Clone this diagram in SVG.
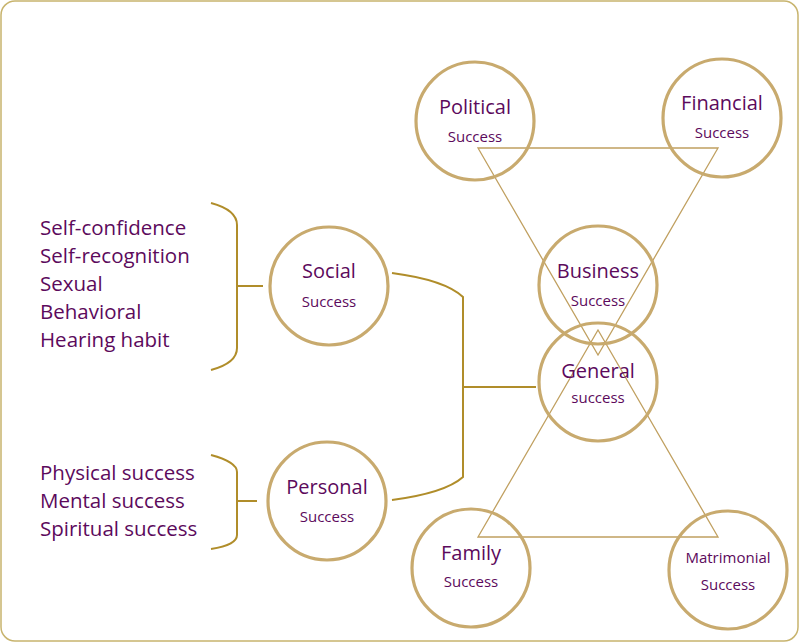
<svg xmlns="http://www.w3.org/2000/svg" width="800" height="643" viewBox="0 0 800 643">
<style>
.c{fill:none;stroke:#c8aa6e;stroke-width:3.2}
.l{fill:none;stroke:#b08d2a;stroke-width:2}
.t{fill:none;stroke:#c0a060;stroke-width:1.3}
text{font-family:"Open Sans","Noto Sans",sans-serif;fill:#5c0a5c;text-anchor:middle}
.b{font-size:20px}.s{font-size:15px}
.a{font-size:20.5px;text-anchor:start}
</style>
<rect x="1" y="1" width="797" height="640" rx="14" fill="#fff" stroke="#c8b46e" stroke-width="1.5"/>
<g id="connectors">
<path class="l" d="M211,203 Q237,210 237,225 V348 Q237,363 211,370 M237,286 H263"/>
<path class="l" d="M211,455 Q237,462 237,472 V535 Q237,545 211,549 M237,501 H257"/>
<path class="l" d="M392,273 Q445,280 463,297 V477 Q445,493 392,500 M463,387 H536"/>
<polygon class="t" points="478,148 718,148 598,355"/>
<polygon class="t" points="598,330 718,537 478,537"/>
</g>
<g id="political"><circle class="c" cx="475" cy="121" r="59"/><text class="b" x="475" y="114">Political</text><text class="s" x="475" y="142">Success</text></g>
<g id="financial"><circle class="c" cx="722" cy="118" r="59"/><text class="b" x="722" y="110">Financial</text><text class="s" x="722" y="138">Success</text></g>
<g id="business"><circle class="c" cx="598" cy="285" r="59"/><text class="b" x="598" y="278">Business</text><text class="s" x="598" y="306">Success</text></g>
<g id="general"><circle class="c" cx="598" cy="382" r="59"/><text class="b" x="598" y="378">General</text><text class="s" x="598" y="403">success</text></g>
<g id="social"><circle class="c" cx="329" cy="286" r="59"/><text class="b" x="329" y="278">Social</text><text class="s" x="329" y="307">Success</text></g>
<g id="personal"><circle class="c" cx="327" cy="501" r="59"/><text class="b" x="327" y="494">Personal</text><text class="s" x="327" y="522">Success</text></g>
<g id="family"><circle class="c" cx="471" cy="568" r="59"/><text class="b" x="471" y="560">Family</text><text class="s" x="471" y="587">Success</text></g>
<g id="matrimonial"><circle class="c" cx="728" cy="570" r="59"/><text class="s" x="728" y="563">Matrimonial</text><text class="s" x="728" y="590">Success</text></g>
<g id="social-list">
<text class="a" x="40" y="235">Self-confidence</text>
<text class="a" x="40" y="263">Self-recognition</text>
<text class="a" x="40" y="291">Sexual</text>
<text class="a" x="40" y="319">Behavioral</text>
<text class="a" x="40" y="347">Hearing habit</text>
</g>
<g id="personal-list">
<text class="a" x="40" y="480">Physical success</text>
<text class="a" x="40" y="508">Mental success</text>
<text class="a" x="40" y="536">Spiritual success</text>
</g>
</svg>
